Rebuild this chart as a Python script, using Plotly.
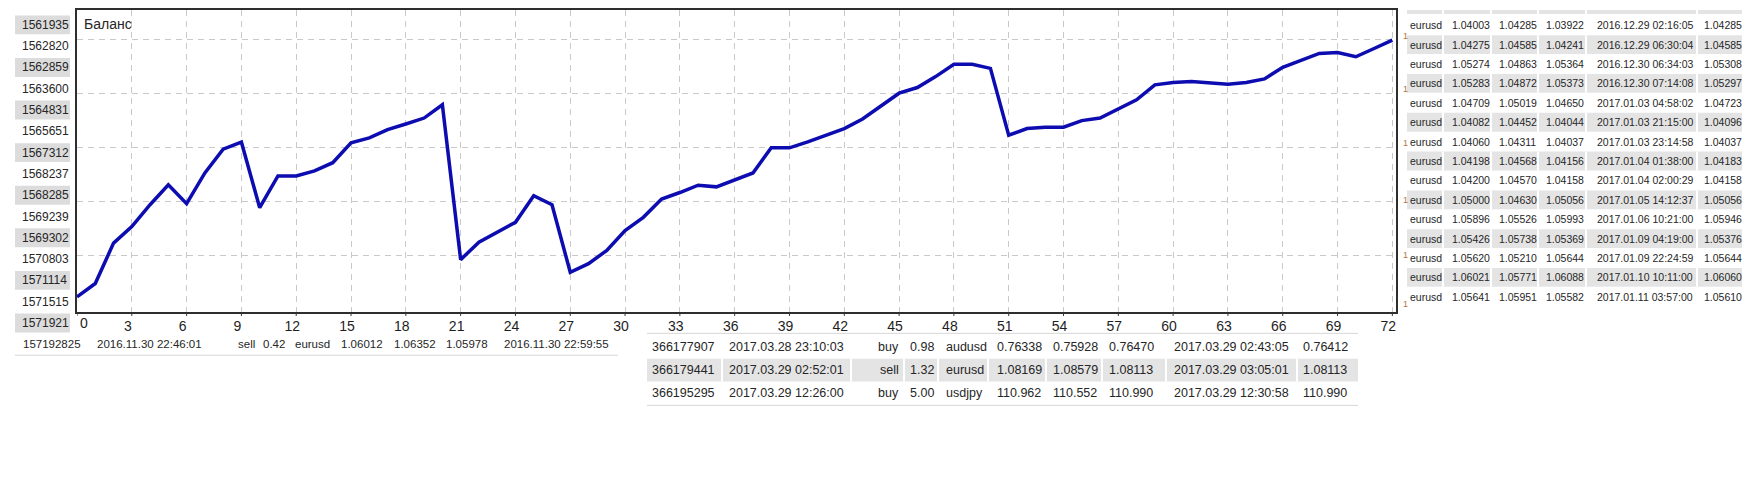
import plotly.graph_objects as go

# ---------------- data ----------------
trade_index = list(range(73))
balance = [231, 478, 1227, 1535, 1940, 2309, 1959, 2530, 2972, 3101,
           1885, 2475, 2475, 2567, 2720, 3088, 3181, 3335, 3439, 3549,
           3796, 921, 1245, 1429, 1614, 2106, 1940, 687, 847, 1092,
           1461, 1706, 2045, 2167, 2303, 2272, 2395, 2530, 2996, 2996,
           3107, 3230, 3354, 3531, 3765, 4010, 4115, 4318, 4545, 4545,
           4471, 3230, 3354, 3378, 3378, 3501, 3549, 3723, 3888, 4165,
           4207, 4226, 4207, 4176, 4207, 4276, 4489, 4613, 4747, 4766,
           4687, 4840, 4994]
x_ticks = list(range(0, 73, 3))
y_grid = [1000, 2000, 3000, 4000, 5000]

left_labels = ["1561935", "1562820", "1562859", "1563600", "1564831",
               "1565651", "1567312", "1568237", "1568285", "1569239",
               "1569302", "1570803", "1571114", "1571515", "1571921"]

table1_row = ["157192825", "2016.11.30 22:46:01", "sell", "0.42", "eurusd",
              "1.06012", "1.06352", "1.05978", "2016.11.30 22:59:55"]

table2_rows = [
    ["366177907", "2017.03.28 23:10:03", "buy", "0.98", "audusd", "0.76338", "0.75928", "0.76470", "2017.03.29 02:43:05", "0.76412"],
    ["366179441", "2017.03.29 02:52:01", "sell", "1.32", "eurusd", "1.08169", "1.08579", "1.08113", "2017.03.29 03:05:01", "1.08113"],
    ["366195295", "2017.03.29 12:26:00", "buy", "5.00", "usdjpy", "110.962", "110.552", "110.990", "2017.03.29 12:30:58", "110.990"],
]

right_rows = [
    ["eurusd", "1.04003", "1.04285", "1.03922", "2016.12.29 02:16:05", "1.04285"],
    ["eurusd", "1.04275", "1.04585", "1.04241", "2016.12.29 06:30:04", "1.04585"],
    ["eurusd", "1.05274", "1.04863", "1.05364", "2016.12.30 06:34:03", "1.05308"],
    ["eurusd", "1.05283", "1.04872", "1.05373", "2016.12.30 07:14:08", "1.05297"],
    ["eurusd", "1.04709", "1.05019", "1.04650", "2017.01.03 04:58:02", "1.04723"],
    ["eurusd", "1.04082", "1.04452", "1.04044", "2017.01.03 21:15:00", "1.04096"],
    ["eurusd", "1.04060", "1.04311", "1.04037", "2017.01.03 23:14:58", "1.04037"],
    ["eurusd", "1.04198", "1.04568", "1.04156", "2017.01.04 01:38:00", "1.04183"],
    ["eurusd", "1.04200", "1.04570", "1.04158", "2017.01.04 02:00:29", "1.04158"],
    ["eurusd", "1.05000", "1.04630", "1.05056", "2017.01.05 14:12:37", "1.05056"],
    ["eurusd", "1.05896", "1.05526", "1.05993", "2017.01.06 10:21:00", "1.05946"],
    ["eurusd", "1.05426", "1.05738", "1.05369", "2017.01.09 04:19:00", "1.05376"],
    ["eurusd", "1.05620", "1.05210", "1.05644", "2017.01.09 22:24:59", "1.05644"],
    ["eurusd", "1.06021", "1.05771", "1.06088", "2017.01.10 10:11:00", "1.06060"],
    ["eurusd", "1.05641", "1.05951", "1.05582", "2017.01.11 03:57:00", "1.05610"],
]

# ---------------- layout geometry (page pixels) ----------------
OFF = 8                      # default body margin of the html page
W, H = 1738, 464             # figure size (fits the 1754x480 window with the margin)
PL, PR, PT, PB = 77, 1396, 8, 312   # plot area in page pixels


def xp(px):
    return (px - PL) / (PR - PL)


def yp(py):
    return (PB - py) / (PB - PT)


FONT = "Liberation Sans, Arial, sans-serif"
TXT = "#262626"

annotations = []
shapes = []


def text(px, py, s, size=11.5, anchor="left", color=TXT):
    annotations.append(dict(x=xp(px), y=yp(py), xref="paper", yref="paper",
                            text=s, showarrow=False, xanchor=anchor, yanchor="middle",
                            font=dict(family=FONT, size=size, color=color),
                            borderpad=0))


def rect(x0, y0, x1, y1, color):
    shapes.append(dict(type="rect", xref="paper", yref="paper",
                       x0=xp(x0), x1=xp(x1), y0=yp(y1), y1=yp(y0),
                       fillcolor=color, line=dict(width=0), layer="below"))


def hline(x0, x1, y, color="#d6d6d6", width=1):
    shapes.append(dict(type="line", xref="paper", yref="paper",
                       x0=xp(x0), x1=xp(x1), y0=yp(y), y1=yp(y),
                       line=dict(color=color, width=width), layer="below"))


def vline(x, y0, y1, color="#ffffff", width=2):
    shapes.append(dict(type="line", xref="paper", yref="paper",
                       x0=xp(x), x1=xp(x), y0=yp(y0), y1=yp(y1),
                       line=dict(color=color, width=width), layer="below"))


# left label column
for i, lab in enumerate(left_labels):
    cy = 23 + 21.43 * i
    if i % 2 == 0:
        rect(15, cy - 9.5, 70, cy + 9.5, "#dcdcdc")
    text(21, cy, lab, size=12)

# chart title
text(83, 22, "Баланс", size=14)
# first tick label "0" (sits right of the axis corner)
text(84, 323, "0", size=14, anchor="center", color="#1e1e1e")

# small tick marks below the x axis, at the tick values
for v in x_ticks:
    shapes.append(dict(type="line", xref="x", yref="paper", x0=v, x1=v,
                       y0=0, y1=-4 / (PB - PT), line=dict(color="#333333", width=1)))

# table 1
t1_x = [22, 96, 237, 262, 294, 340, 393, 445, 503]
for s, x in zip(table1_row, t1_x):
    text(x, 344.5, s, size=11.5)
hline(15, 618, 355.5)

# table 2
t2_x = [651, 728, None, 909, 945, 996, 1052, 1108, 1173, 1302]
t2_y = [347, 370.5, 394]
hline(647, 1358, 333.5)
rect(647, 359, 1358, 382, "#e4e4e4")
for sx in [722, 851, 904, 938, 988, 1046, 1102, 1166, 1297]:
    vline(sx, 359, 382)
hline(647, 1358, 406)
for row, cy in zip(table2_rows, t2_y):
    for j, s in enumerate(row):
        if j == 2:
            text(900, cy, s, size=12.5, anchor="right")
        else:
            text(t2_x[j], cy, s, size=12.5)

# right table
r_x = [1409, 1451, 1498, 1545, 1596, 1703]
r_seps = [1443, 1491, 1538, 1586, 1697]
rect(1407, 8, 1742, 12, "#e4e4e4")
for sx in r_seps:
    vline(sx, 8, 12)
for i, row in enumerate(right_rows):
    cy = 23.3 + 19.53 * i
    if i % 2 == 1:
        rect(1407, cy - 9.5, 1742, cy + 9.5, "#e4e4e4")
        for sx in r_seps:
            vline(sx, cy - 9.5, cy + 9.5)
    for s, x in zip(row, r_x):
        text(x, cy, s, size=10.5)

# small cut-off marks right of the chart
for my in [34, 88, 142, 199, 255, 304]:
    text(1405, my, "1", size=9, anchor="center", color="#b8743a")

# ---------------- figure ----------------
fig = go.Figure()
fig.add_trace(go.Scatter(x=trade_index, y=balance, mode="lines",
                         line=dict(color="#0c0cb0", width=3.5),
                         hoverinfo="skip", showlegend=False))

fig.update_layout(
    width=W, height=H,
    margin=dict(l=PL - OFF, r=W - (PR - OFF), t=PT - OFF, b=H - (PB - OFF), pad=0),
    paper_bgcolor="white", plot_bgcolor="white",
    shapes=shapes, annotations=annotations,
    xaxis=dict(range=[0, 72.2], tickvals=x_ticks,
               ticktext=["" if v == 0 else str(v) for v in x_ticks],
               ticks="", ticklabelshift=-4,
               tickfont=dict(family=FONT, size=14, color="#1e1e1e"),
               showgrid=True, gridcolor="#c9c9c9", griddash="6px,5px", gridwidth=1,
               showline=True, linecolor="#2e2e2e", linewidth=2, mirror=True,
               zeroline=False, fixedrange=True),
    yaxis=dict(range=[-50.7, 5554], tickvals=y_grid, showticklabels=False,
               ticks="",
               showgrid=True, gridcolor="#c9c9c9", griddash="6px,5px", gridwidth=1,
               showline=True, linecolor="#2e2e2e", linewidth=2, mirror=True,
               zeroline=False, fixedrange=True),
)

fig.write_html("out.html")
